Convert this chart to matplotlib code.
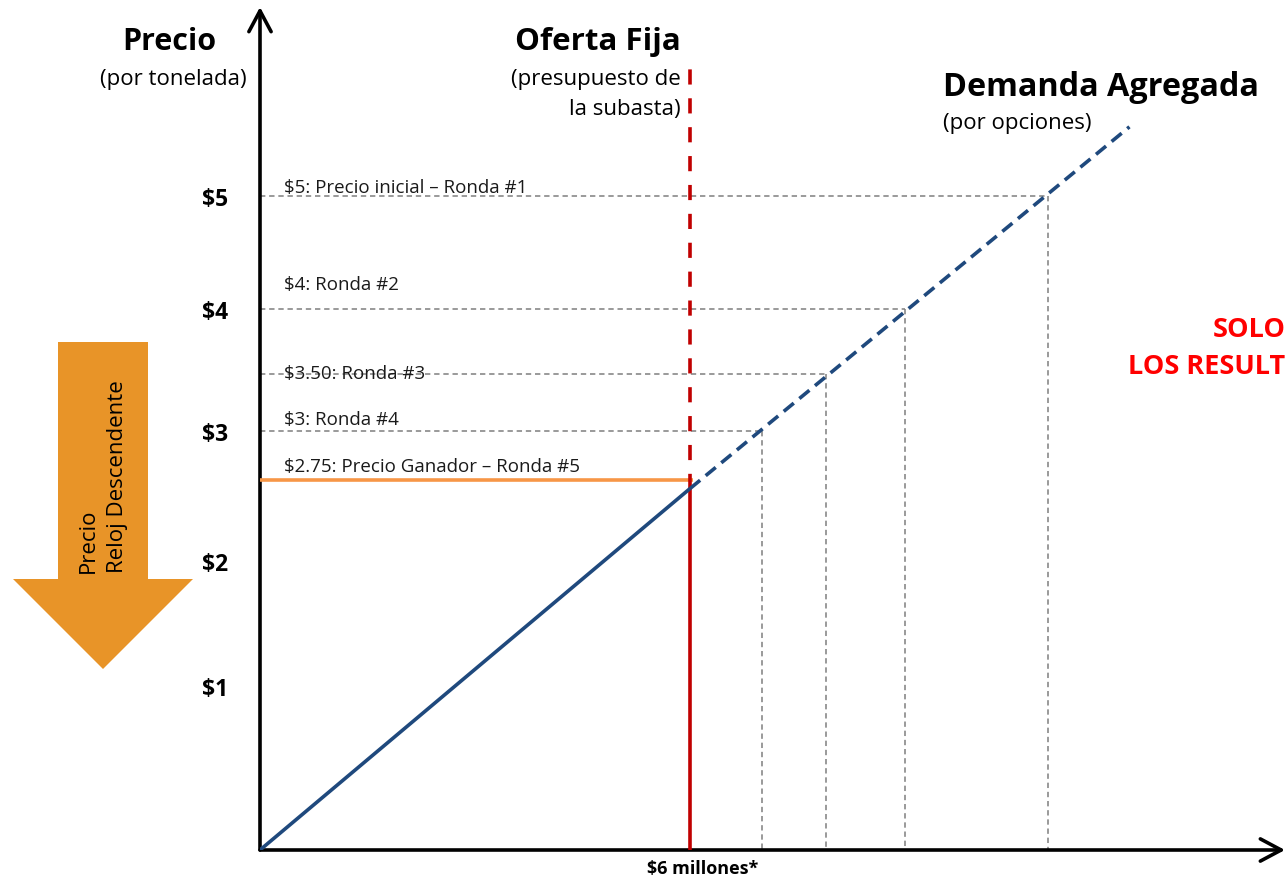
import numpy as np
import matplotlib
matplotlib.use('Agg')
import matplotlib.pyplot as plt
from matplotlib.patches import Polygon

# ---------------- data ----------------
price_ticks = [1, 2, 3, 4, 5]
price_tick_labels = ['$1', '$2', '$3', '$4', '$5']
round_prices = [5, 4, 3.5, 3]
round_quantities = [11.0, 9.0, 7.9, 7.0]
round_labels = ['$5: Precio inicial – Ronda #1', '$4: Ronda #2',
                '$3.50: Ronda #3', '$3: Ronda #4']
winning_price = 2.75
winning_quantity = 6.04
winning_label = '$2.75: Precio Ganador – Ronda #5'
fixed_offer_q = 6
fixed_offer_label = '$6 millones*'
offer_top_p = 6.17
demand_solid_q = [0, 6]
demand_solid_p = [0, 2.67]
demand_dashed_q = [6, 12.13]
demand_dashed_p = [2.67, 5.61]

# ---------------- layout / style ----------------
W, H = 1285, 879
FONT = 'Open Sans'
NAVY = '#1F497D'
RED = '#C00000'
ORANGE_LINE = '#F79646'
ORANGE_ARROW = '#E89428'
GRAY = '#7F7F7F'

# schematic (non-uniform) price scale
SCALE_P = [-1, 0, 1, 2, 2.75, 3, 3.5, 4, 5, 6, 7]
SCALE_H = [-164, 0, 164, 289, 370, 419, 476, 541, 654, 767, 880]

def fwd(p):
    return np.interp(p, SCALE_P, SCALE_H)

def inv(h):
    return np.interp(h, SCALE_H, SCALE_P)

label_offsets_px = [0, 16, -8, 3, 5]

def fx(px):
    return px / W

def fy(py):
    return 1 - py / H

plt.rcParams['font.family'] = [FONT, 'DejaVu Sans']

fig = plt.figure(figsize=(W / 100, H / 100), dpi=100)
ax = fig.add_axes([260 / W, 28 / H, 1025 / W, 843 / H])
ax.set_yscale('function', functions=(fwd, inv))
ax.set_xlim(0, 14.3)
ax.set_ylim(0, 6.67)
for s in ax.spines.values():
    s.set_visible(False)

# axes arrows
arrow_kw = dict(arrowstyle='->,head_length=0.75,head_width=0.4', lw=2.6,
                color='black', shrinkA=0, shrinkB=0, mutation_scale=20)
ax.annotate('', xy=(0, 6.67), xytext=(0, 0), xycoords='data',
            arrowprops=arrow_kw, annotation_clip=False)
ax.annotate('', xy=(14.3, 0), xytext=(0, 0), xycoords='data',
            arrowprops=arrow_kw, annotation_clip=False)

# ticks
ax.set_yticks(price_ticks, price_tick_labels)
ax.set_xticks([], [])
ax.tick_params(axis='y', length=0, pad=23, labelsize=16.5)
for t in ax.get_yticklabels():
    t.set_fontweight('bold')
ax.minorticks_off()
ax.annotate(fixed_offer_label, xy=(fixed_offer_q, 0), xytext=(13, -9),
            textcoords='offset pixels', ha='center', va='top', fontsize=13,
            fontweight='bold', annotation_clip=False)

# round lines (horizontal + vertical dashed gray)
for p, q, lab, off in zip(round_prices, round_quantities, round_labels, label_offsets_px):
    ax.plot([0, q], [p, p], color=GRAY, lw=1.1, dashes=(3.5, 2.5), zorder=2)
    ax.plot([q, q], [p, 0], color=GRAY, lw=1.1, dashes=(3.5, 2.5), zorder=2)
    ax.annotate(lab, xy=(0, p), xytext=(24, off), textcoords='offset pixels',
                ha='left', va='bottom', fontsize=13.5, color='#1a1a1a')

# winning price line
ax.plot([0, winning_quantity], [winning_price, winning_price],
        color=ORANGE_LINE, lw=2.6, solid_capstyle='butt', zorder=3)
ax.annotate(winning_label, xy=(0, winning_price), xytext=(24, label_offsets_px[-1]),
            textcoords='offset pixels', ha='left', va='bottom', fontsize=13.5,
            color='#1a1a1a')

# fixed offer (red)
ax.plot([fixed_offer_q, fixed_offer_q], [0, demand_solid_p[-1]], color=RED,
        lw=2.6, solid_capstyle='butt', zorder=4)
ax.plot([fixed_offer_q, fixed_offer_q], [demand_solid_p[-1], offer_top_p], color=RED,
        lw=2.6, dashes=(4.2, 3.8), zorder=4)

# demand
ax.plot(demand_solid_q, demand_solid_p, color=NAVY, lw=2.6,
        solid_capstyle='butt', zorder=5)
ax.plot(demand_dashed_q, demand_dashed_p, color=NAVY, lw=2.6,
        dashes=(3.6, 2.0), zorder=5)

# descending price arrow
arrow_px = [(58, 343), (148, 343), (148, 580), (193, 580), (103, 670),
            (13, 580), (58, 580)]
fig.patches.append(Polygon([(fx(x), fy(y)) for x, y in arrow_px], closed=True,
                           transform=fig.transFigure, facecolor=ORANGE_ARROW,
                           edgecolor='none'))
fig.text(fx(88), fy(573), 'Precio', rotation=90, ha='center', va='bottom',
         fontsize=16)
fig.text(fx(118), fy(573), 'Reloj Descendente', rotation=90, ha='center',
         va='bottom', fontsize=16)

# titles
fig.text(fx(216), fy(42), 'Precio', ha='right', va='center', fontsize=22,
         fontweight='bold')
fig.text(fx(247), fy(80), '(por tonelada)', ha='right', va='center', fontsize=16)
fig.text(fx(681), fy(42), 'Oferta Fija', ha='right', va='center', fontsize=22.5,
         fontweight='bold')
fig.text(fx(681), fy(80), '(presupuesto de', ha='right', va='center', fontsize=16)
fig.text(fx(681), fy(110), 'la subasta)', ha='right', va='center', fontsize=16)
fig.text(fx(943), fy(87), 'Demanda Agregada', ha='left', va='center', fontsize=23.3,
         fontweight='bold')
fig.text(fx(943), fy(124), '(por opciones)', ha='left', va='center', fontsize=16)

fig.text(fx(1213), fy(330), 'SOLO', ha='left', va='center', fontsize=19.5,
         fontweight='bold', color='#FF0000')
fig.text(fx(1128), fy(367), 'LOS RESULT', ha='left', va='center', fontsize=19.5,
         fontweight='bold', color='#FF0000')

fig.savefig('out.png', dpi=100)
